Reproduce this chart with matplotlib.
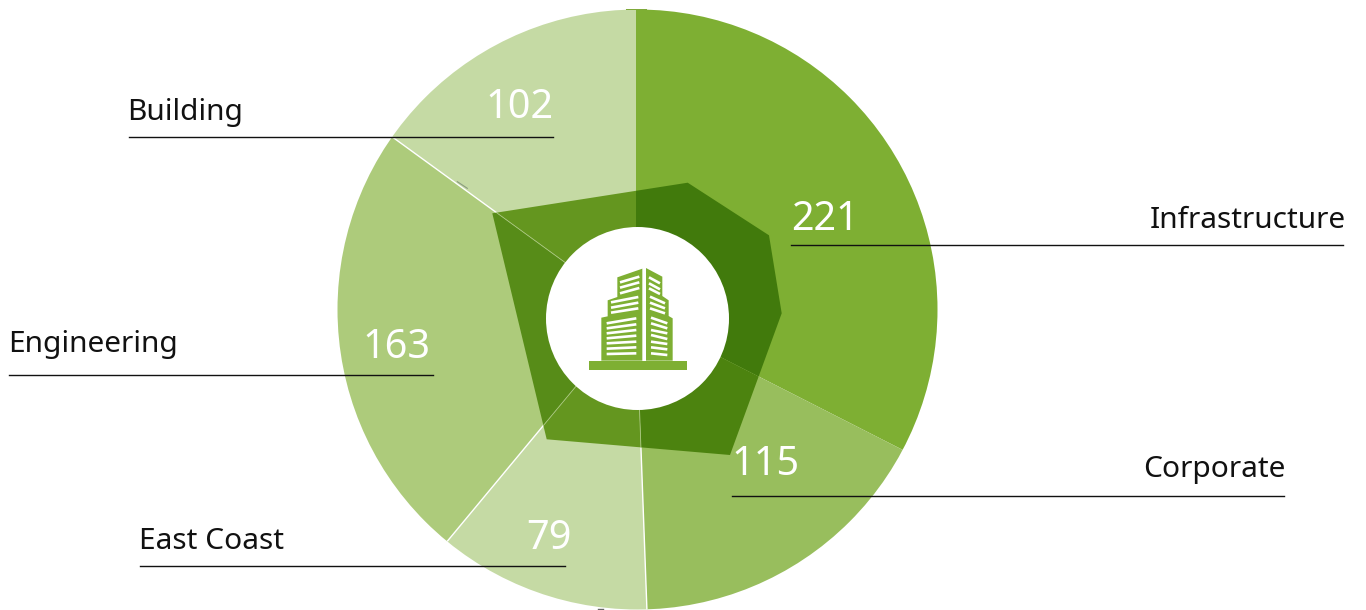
import numpy as np
import matplotlib
matplotlib.use("Agg")
import matplotlib.pyplot as plt
from matplotlib.patches import Circle, Polygon, Rectangle

categories = ["Infrastructure", "Corporate", "East Coast", "Engineering", "Building"]
values = [221, 115, 79, 163, 102]
outer_colors = ["#7EAF33", "#98BE5D", "#C5DAA4", "#ADCB7B", "#C5DAA4"]
inner_colors = ["#417A0C", "#4C830F", "#64961F", "#578C18", "#64961F"]
inner_x = [687.7, 769, 781.7, 730, 546.7, 492.3]
inner_y = [182.7, 235.3, 313.3, 455, 439.3, 213.3]
label_x = [1345.5, 1285.5, 139, 8, 127.5]
label_ha = ["right", "right", "left", "left", "left"]
label_base = [228, 477, 549, 352, 120]
rule_x0 = [791, 732, 140, 9, 129]
rule_x1 = [1343, 1284, 565, 433, 553]
rule_y = [245, 496, 566, 375, 137]
value_x = [825, 766, 549, 396, 519]
value_base = [230, 475, 549, 358, 118]

FONT = "Noto Sans"
G = "#7EAF33"
fig = plt.figure(figsize=(13.66, 6.10), dpi=100)
ax = fig.add_axes([0, 0, 1, 1])
Y = lambda y: 610 - y
pie_c = (636, Y(314))
disc = Circle((637.5, Y(309.5)), 300, transform=ax.transData, fc="none", ec="none")
ax.add_patch(disc)
wedges, _ = ax.pie(values, colors=outer_colors, startangle=90, counterclock=False,
                   center=pie_c, radius=320, wedgeprops=dict(linewidth=0))
for w in wedges:
    w.set_clip_on(True)
    w.set_clip_path(disc)

angles = 90 - np.cumsum(values) / np.sum(values) * 360
for a in angles[1:4]:
    ln, = ax.plot([pie_c[0], pie_c[0] + 320 * np.cos(np.radians(a))],
                  [pie_c[1], pie_c[1] + 320 * np.sin(np.radians(a))], color="white", lw=1.0, zorder=3)
    ln.set_clip_path(disc)

hexagon = Polygon(np.column_stack([inner_x, [Y(v) for v in inner_y]]), closed=True,
                  fc="none", ec="none", transform=ax.transData)
ax.add_patch(hexagon)
in_w, _ = ax.pie(values, colors=inner_colors, startangle=90, counterclock=False,
                 center=pie_c, radius=320, wedgeprops=dict(linewidth=0, zorder=4))
for w in in_w:
    w.set_clip_on(True)
    w.set_clip_path(hexagon)
for a in angles[1:4]:
    ln, = ax.plot([pie_c[0], pie_c[0] + 320 * np.cos(np.radians(a))],
                  [pie_c[1], pie_c[1] + 320 * np.sin(np.radians(a))], color="#A9C77E", lw=0.6, zorder=5)
    ln.set_clip_path(hexagon)

ax.add_patch(Circle((637.5, Y(318.5)), 91.5, fc="white", ec="none", zorder=6))

# building icon, drawn in the coordinates of a 3x enlargement
zx = lambda v: 470 + np.asarray(v) / 3
zy = lambda v: Y(160 + np.asarray(v) / 3)
def poly(xs, ys, **k):
    ax.add_patch(Polygon(np.column_stack([zx(xs), zy(ys)]), closed=True, lw=0, zorder=7, **k))
poly([356, 650, 650, 356], [602, 602, 630, 630], fc=G)
poly([394, 394, 413, 413, 442, 442, 517, 517], [602, 473, 469, 421, 411, 352, 326, 602], fc=G)
poly([528, 528, 577, 577, 596, 596, 608, 608], [602, 324, 350, 408, 421, 468, 475, 602], fc=G)
stripes = [
    (450, 508, [367, 383, 400], [350, 367, 384]),
    (423, 505, [427, 443, 458], [411, 428, 445]),
    (410, 499, [490, 505, 520, 535, 550, 566, 582], [475, 493, 510, 527, 545, 562, 580]),
    (537, 570, [352, 370, 385], [370, 388, 402]),
    (540, 585, [410, 428, 445], [430, 445, 460]),
    (543, 592, [473, 490, 510, 525, 545, 562, 580], [490, 505, 520, 537, 552, 568, 585]),
]
for x0, x1, y0s, y1s in stripes:
    for y0, y1 in zip(y0s, y1s):
        ax.plot(zx([x0, x1]), zy([y0, y1]), color="white", lw=1.9, solid_capstyle="butt", zorder=8)

for i, c in enumerate(categories):
    ax.plot([rule_x0[i], rule_x1[i]], [Y(rule_y[i])] * 2, color="#111111", lw=1.0, zorder=9)
    ax.text(label_x[i], Y(label_base[i]), c, ha=label_ha[i], va="baseline", fontsize=21.5,
            family=FONT, color="#111111", zorder=10)
    ax.text(value_x[i], Y(value_base[i]), str(values[i]), ha="center", va="baseline", fontsize=28.5,
            family=FONT, color="white", zorder=10)

ax.add_patch(Rectangle((626, Y(10)), 21, 1.2, fc="#7FA93A", lw=0, zorder=2))
ax.plot([457.3, 467.3], [Y(181.7), Y(188.3)], color="#8A9A80", lw=0.8, zorder=3)
ax.plot([598, 603], [Y(609), Y(609)], color="#666666", lw=1.0, zorder=3)
ax.set_xlim(0, 1366)
ax.set_ylim(0, 610)
ax.set_aspect("equal")
ax.axis("off")
fig.savefig("out.png", dpi=100)
